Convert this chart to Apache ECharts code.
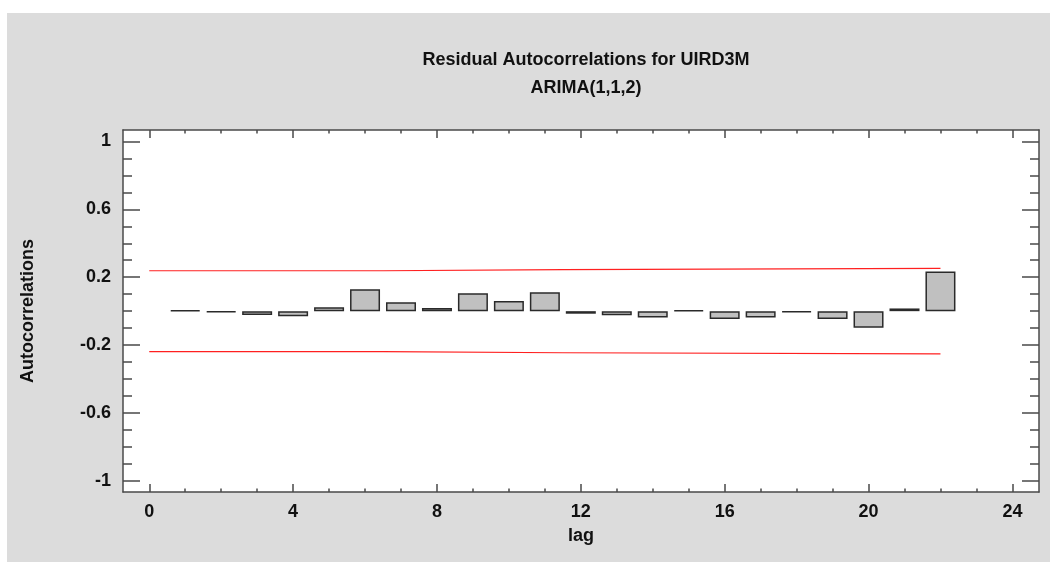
<!DOCTYPE html>
<html>
<head>
<meta charset="utf-8">
<script src="https://cdn.jsdelivr.net/npm/echarts@6/dist/echarts.min.js"></script>
<style>
    html, body { margin: 0; padding: 0; background: #ffffff; }
    #chart { position: absolute; left: 7px; top: 13px; width: 1043px; height: 549px; background: #dcdcdc; }
</style>
</head>
<body>
<div id="chart"></div>
<script>
// residual autocorrelations by lag
var lags = [1, 2, 3, 4, 5, 6, 7, 8, 9, 10, 11, 12, 13, 14, 15, 16, 17, 18, 19, 20, 21, 22];
var acf = [0.006, -0.006, -0.022, -0.03, 0.023, 0.129, 0.052, 0.018, 0.105, 0.06, 0.111, -0.015,
    -0.024, -0.038, 0.006, -0.046, -0.038, -0.006, -0.046, -0.097, 0.016, 0.233];

// 95% probability limits (step changes between lags)
var limitLags = [0, 6.5, 6.5, 11.5, 11.5, 22];
var upperLimit = [0.238, 0.238, 0.245, 0.245, 0.252, 0.252];
var lowerLimit = [-0.238, -0.238, -0.245, -0.245, -0.252, -0.252];

var xMajor = [0, 4, 8, 12, 16, 20, 24];
var xMinor = [1, 2, 3, 5, 6, 7, 9, 10, 11, 13, 14, 15, 17, 18, 19, 21, 22, 23];
var yMajor = [-1, -0.6, -0.2, 0.2, 0.6, 1];
var yMinor = [-0.9, -0.8, -0.7, -0.5, -0.4, -0.3, -0.1, 0, 0.1, 0.3, 0.4, 0.5, 0.7, 0.8, 0.9];

var font = '"Liberation Sans", Arial, sans-serif';
var fsize = 18;
var axisColor = '#4a4a4a';

function xAx(pos, ticks, len, showLine, showLabel) {
    return {
        type: 'value', position: pos, min: -0.73, max: 24.74,
        axisLine: { show: showLine, onZero: false, lineStyle: { color: axisColor, width: 1.5 } },
        axisTick: { show: true, inside: true, length: len, customValues: ticks, lineStyle: { color: axisColor, width: 1.5 } },
        axisLabel: { show: showLabel, customValues: ticks, margin: 11, color: '#111', fontSize: fsize, fontWeight: 'bold', fontFamily: font },
        splitLine: { show: false }
    };
}
function yAx(pos, ticks, len, showLine, showLabel) {
    return {
        type: 'value', position: pos, min: -1.065, max: 1.067,
        axisLine: { show: showLine, onZero: false, lineStyle: { color: axisColor, width: 1.5 } },
        axisTick: { show: true, inside: true, length: len, customValues: ticks, lineStyle: { color: axisColor, width: 1.5 } },
        axisLabel: {
            show: showLabel, customValues: ticks, margin: 12, color: '#111', fontSize: fsize, fontWeight: 'bold', fontFamily: font,
            formatter: function (v) { return String(Math.round(v * 10) / 10); }
        },
        splitLine: { show: false }
    };
}

var xAxes = [xAx('bottom', xMajor, 8, true, true), xAx('bottom', xMinor, 3.5, false, false),
    xAx('top', xMajor, 8, true, false), xAx('top', xMinor, 3.5, false, false)];
xAxes[0].name = 'lag';
xAxes[0].nameLocation = 'middle';
xAxes[0].nameGap = 35;
xAxes[0].nameTextStyle = { color: '#111', fontSize: fsize, fontWeight: 'bold', fontFamily: font };

var yAxes = [yAx('left', yMajor, 17, true, true), yAx('left', yMinor, 9, false, false),
    yAx('right', yMajor, 17, true, false), yAx('right', yMinor, 9, false, false)];
yAxes[0].name = 'Autocorrelations';
yAxes[0].nameLocation = 'middle';
yAxes[0].nameGap = 86;
yAxes[0].nameTextStyle = { color: '#111', fontSize: fsize, fontWeight: 'bold', fontFamily: font };

var chart = echarts.init(document.getElementById('chart'));
chart.setOption({
    animation: false,
    title: {
        text: 'Residual Autocorrelations for UIRD3M\nARIMA(1,1,2)',
        left: 574, top: 28, textAlign: 'center',
        textStyle: { color: '#111', fontSize: fsize, fontWeight: 'bold', fontFamily: font, lineHeight: 28 }
    },
    grid: { left: 116, top: 117, right: 11, bottom: 70, backgroundColor: '#ffffff', show: true, borderWidth: 0 },
    xAxis: xAxes,
    yAxis: yAxes,
    series: [
        {
            type: 'bar', xAxisIndex: 0, yAxisIndex: 0, barWidth: 30,
            data: lags.map(function (l, i) { return [l, acf[i]]; }),
            itemStyle: { color: '#c0c0c0', borderColor: '#2a2a2a', borderWidth: 1.5 }
        },
        {
            type: 'line', xAxisIndex: 0, yAxisIndex: 0, symbol: 'none',
            data: limitLags.map(function (l, i) { return [l, upperLimit[i]]; }),
            lineStyle: { color: '#ff2020', width: 1.2 }
        },
        {
            type: 'line', xAxisIndex: 0, yAxisIndex: 0, symbol: 'none',
            data: limitLags.map(function (l, i) { return [l, lowerLimit[i]]; }),
            lineStyle: { color: '#ff2020', width: 1.2 }
        }
    ]
});

window.onresize = function () {
    setTimeout(function () {
        chart.resize();
    }, 200);
};
</script>
</body>
</html>
